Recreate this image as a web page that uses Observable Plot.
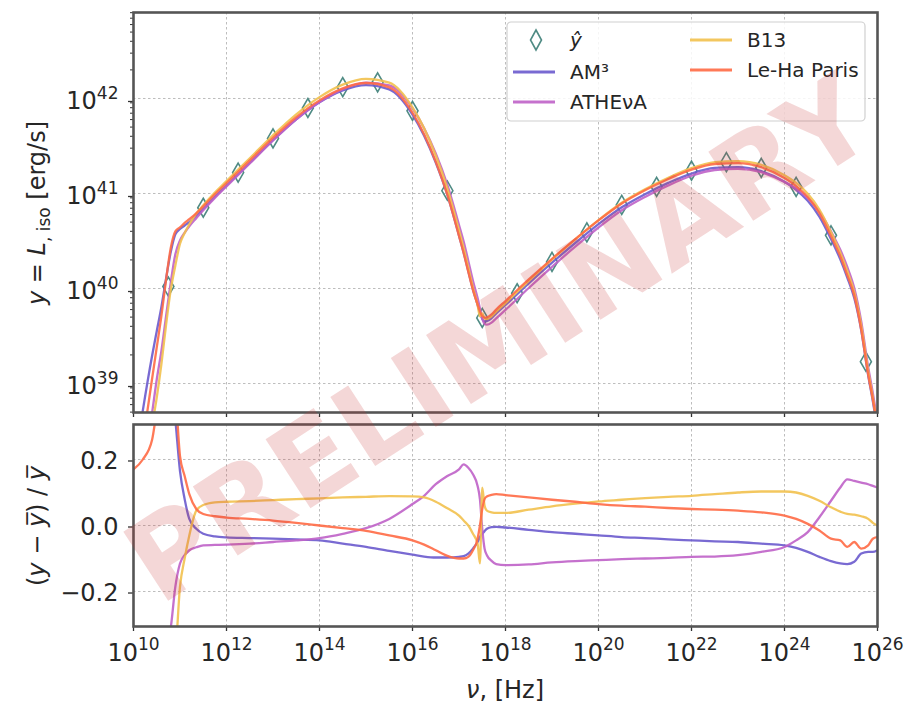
<!DOCTYPE html>
<html><head><meta charset="utf-8">
<script src="https://cdn.jsdelivr.net/npm/d3@7"></script>
<script src="https://cdn.jsdelivr.net/npm/@observablehq/plot@0.6"></script>
<style>
body{margin:0;background:#fff;}
#wrap{position:relative;width:905px;height:706px;font-family:"DejaVu Sans",sans-serif;overflow:hidden;}
#wrap > svg{display:block}
.ov{position:absolute;left:0;top:0;pointer-events:none}
</style></head><body><div id="wrap"></div>
<script>
// ---- data ----
const logNu = [
  10.0, 10.2, 10.4, 10.5, 10.6, 10.7, 10.8, 10.9, 11.0, 11.1,
  11.2, 11.35, 11.5, 11.75, 12.0, 12.5, 13.0, 13.5, 14.0, 14.5,
  15.0, 15.5, 16.0, 16.25, 16.5, 16.75, 17.0, 17.1, 17.2, 17.3,
  17.4, 17.45, 17.5, 17.55, 17.6, 17.7, 17.8, 18.0, 18.5, 19.0,
  19.5, 20.0, 20.5, 21.0, 21.5, 22.0, 22.5, 23.0, 23.5, 24.0,
  24.25, 24.5, 24.75, 25.0, 25.2, 25.35, 25.5, 25.65, 25.8, 25.9, 26.0];
// mean model luminance, log10 erg/s
const logYbar = [
  37.6, 38.3, 38.95, 39.25, 39.55, 39.9, 40.22, 40.45, 40.56, 40.63,
  40.69, 40.77, 40.85, 40.98, 41.1, 41.34, 41.58, 41.8, 41.98, 42.11,
  42.17, 42.13, 41.87, 41.65, 41.37, 41.03, 40.6, 40.42, 40.22, 40.02,
  39.85, 39.76, 39.69, 39.66, 39.66, 39.69, 39.74, 39.83, 40.06, 40.28,
  40.49, 40.69, 40.87, 41.01, 41.13, 41.23, 41.29, 41.3, 41.26, 41.15,
  41.07, 40.96, 40.8, 40.57, 40.36, 40.17, 39.95, 39.6, 39.12, 38.85, 38.55];
// relative residuals (y - ybar)/ybar per model
const resAM3 = [
  2.0, 1.6, 1.2, 1.0, 0.8, 0.6, 0.45, 0.32, 0.165, 0.08,
  0.02, -0.01, -0.025, -0.033, -0.036, -0.038, -0.04, -0.042, -0.045, -0.055,
  -0.065, -0.077, -0.088, -0.094, -0.097, -0.097, -0.095, -0.093, -0.085, -0.07,
  -0.05, -0.035, -0.025, -0.017, -0.01, -0.005, -0.004, -0.006, -0.013, -0.02,
  -0.025, -0.03, -0.035, -0.038, -0.042, -0.045, -0.048, -0.05, -0.055, -0.06,
  -0.068, -0.08, -0.095, -0.108, -0.115, -0.117, -0.11, -0.085, -0.08, -0.08, -0.075];
const resATHEvA = [
  -0.5, -0.44, -0.45, -0.38, -0.38, -0.36, -0.31, -0.185, -0.115, -0.09,
  -0.075, -0.066, -0.06, -0.059, -0.058, -0.055, -0.05, -0.045, -0.038, -0.025,
  -0.008, 0.02, 0.065, 0.09, 0.125, 0.15, 0.17, 0.185, 0.175, 0.155,
  0.12, 0.08, -0.01, -0.07, -0.09, -0.107, -0.117, -0.12, -0.118, -0.112,
  -0.108, -0.105, -0.102, -0.1, -0.098, -0.095, -0.094, -0.09, -0.08, -0.065,
  -0.045, -0.02, 0.025, 0.075, 0.115, 0.14, 0.135, 0.13, 0.125, 0.12, 0.115];
const resB13 = [
  -0.75, -0.68, -0.6, -0.6, -0.55, -0.48, -0.42, -0.38, -0.185, -0.1,
  -0.03, 0.045, 0.062, 0.07, 0.072, 0.074, 0.077, 0.08, 0.082, 0.085,
  0.087, 0.089, 0.088, 0.085, 0.072, 0.052, 0.03, 0.015, 0.0, -0.025,
  -0.055, -0.115, 0.115, 0.06, 0.045, 0.04, 0.038, 0.038, 0.048, 0.058,
  0.066, 0.073, 0.078, 0.083, 0.087, 0.09, 0.095, 0.1, 0.103, 0.103,
  0.1, 0.09, 0.075, 0.055, 0.042, 0.035, 0.033, 0.028, 0.02, 0.008, 0.0];
const resLeHa = [
  0.17, 0.2, 0.26, 0.35, 0.45, 0.55, 0.6, 0.42, 0.21, 0.15,
  0.095, 0.05, 0.035, 0.028, 0.024, 0.02, 0.015, 0.008, 0.0, -0.008,
  -0.016, -0.03, -0.045, -0.058, -0.075, -0.092, -0.1, -0.1, -0.095, -0.075,
  -0.04, 0.0, 0.05, 0.08, 0.088, 0.093, 0.095, 0.092, 0.085, 0.078,
  0.072, 0.065, 0.06, 0.057, 0.053, 0.05, 0.048, 0.045, 0.04, 0.03,
  0.02, 0.005, -0.015, -0.04, -0.045, -0.065, -0.05, -0.07, -0.06, -0.04, -0.035];
// observed points (y hat)
const logNuObs = [10.75, 11.5, 12.25, 13.0, 13.75, 14.5, 15.25, 16.0, 16.75, 17.5, 18.25,
  19.0, 19.75, 20.5, 21.25, 22.0, 22.75, 23.5, 24.25, 25.0, 25.75];
const logLObs = [40.02, 40.85, 41.22, 41.58, 41.90, 42.12, 42.17, 41.87, 41.03, 39.69, 39.95,
  40.28, 40.59, 40.88, 41.07, 41.24, 41.33, 41.27, 41.07, 40.56, 39.23];
const modelNames = ["AM³", "ATHEνA", "B13", "Le-Ha Paris"];
const modelColors = ["#6a5acd", "#bf62c8", "#f2c14e", "#ff6a45"];
const xTickExp = [10, 12, 14, 16, 18, 20, 22, 24, 26];
const yTickExp = [39, 40, 41, 42];
const resTicks = [-0.2, 0.0, 0.2];

// ---- build tables ----
const residuals = [resAM3, resATHEvA, resB13, resLeHa];
const series = modelNames.map((name, k) => logNu.map((ln, i) => ({
  nu: 10 ** ln,
  L: 10 ** logYbar[i] * (1 + residuals[k][i]),
  r: residuals[k][i]
})));
const obs = logNuObs.map((ln, i) => ({nu: 10 ** ln, L: 10 ** logLObs[i]}));
const xTicks = xTickExp.map(e => 10 ** e);
const yTicks = yTickExp.map(e => 10 ** e);
const yMinor = [];
for (let e = 38; e <= 42; e++) for (let k = 2; k <= 9; k++) {
  const v = k * 10 ** e; if (v > 10 ** 38.695 && v < 10 ** 42.905) yMinor.push(v);
}
const thinDiamond = {
  draw(ctx, size) {
    const r = Math.sqrt(size / Math.PI), w = r * 0.58;
    ctx.moveTo(0, -r); ctx.lineTo(w, 0); ctx.lineTo(0, r); ctx.lineTo(-w, 0); ctx.closePath();
  }
};
const pow = d => "10^" + Math.round(Math.log10(d));
const textCol = "#262626";
const gridStyle = {stroke: "#bdbdbd", strokeOpacity: 1, strokeWidth: 1, strokeDasharray: "2.5,2.5"};
const common = {
  width: 905, marginLeft: 133, marginRight: 28,
  style: {fontFamily: "DejaVu Sans", fontSize: "24px", color: textCol, background: "transparent", overflow: "visible"},
  x: {type: "log", domain: [1e10, 1e26]}
};

const topPlot = Plot.plot({
  ...common, height: 418, marginTop: 12, marginBottom: 6,
  y: {type: "log", domain: [10 ** 38.695, 10 ** 42.905]},
  marks: [
    Plot.gridX(xTicks, gridStyle),
    Plot.gridY(yTicks, gridStyle),
    Plot.dot(obs, {x: "nu", y: "L", symbol: thinDiamond, r: 9.5, stroke: "#4f8b84", strokeWidth: 1.6, fill: "none"}),
    ...series.map((s, k) => Plot.line(s, {x: "nu", y: "L", stroke: modelColors[k], strokeWidth: 2.3, strokeOpacity: 0.9, curve: "monotone-x", clip: true})),
    Plot.axisX({ticks: xTicks, tickSize: 5, tickFormat: () => "", label: null, stroke: "#333", strokeWidth: 1.3}),
    Plot.axisY({ticks: yMinor, tickSize: 3, tickFormat: () => "", label: null, stroke: "#333"}),
    Plot.axisY({ticks: yTicks, tickSize: 5, tickPadding: 10, tickFormat: pow, label: null, dy: 3, stroke: "#333", strokeWidth: 1.3}),
    Plot.frame({stroke: "#555", strokeWidth: 2.6})
  ]
});

const botPlot = Plot.plot({
  ...common, height: 288, marginTop: 6, marginBottom: 80,
  y: {domain: [-0.306, 0.306]},
  marks: [
    Plot.gridX(xTicks, gridStyle),
    Plot.gridY(resTicks, gridStyle),
    ...series.map((s, k) => Plot.line(s, {x: "nu", y: "r", stroke: modelColors[k], strokeWidth: 2.3, strokeOpacity: 0.9, curve: "monotone-x", clip: true})),
    Plot.axisX({ticks: xTicks, tickSize: 5, tickPadding: 12, tickFormat: pow, label: null, stroke: "#333", strokeWidth: 1.3}),
    Plot.axisY({ticks: resTicks, tickSize: 5, tickPadding: 10, tickFormat: d3.format(".1f"), label: null, dy: 1.5, stroke: "#333", strokeWidth: 1.3}),
    Plot.frame({stroke: "#555", strokeWidth: 2.6})
  ]
});

const NS = "http://www.w3.org/2000/svg";
function superscripts(svg) {
  svg.querySelectorAll("text").forEach(t => {
    const m = /^10\^(\d+)$/.exec(t.textContent);
    if (m) {
      t.textContent = "10";
      const ts = document.createElementNS(NS, "tspan");
      ts.setAttribute("font-size", "17");
      ts.setAttribute("dy", "-0.6em");
      ts.textContent = m[1];
      t.appendChild(ts);
    }
  });
}
superscripts(topPlot); superscripts(botPlot);
const wrap = document.getElementById("wrap");
wrap.appendChild(topPlot);
wrap.appendChild(botPlot);

// ---- overlay: axis titles, legend, watermark ----
const ov = d3.select(wrap).append("svg").attr("class", "ov")
  .attr("width", 905).attr("height", 706)
  .style("font-family", "DejaVu Sans").style("fill", textCol);

// y title (top)
const t1 = ov.append("text").attr("transform", "translate(45,213) rotate(-90)")
  .attr("text-anchor", "middle").attr("font-size", 24);
t1.append("tspan").attr("font-style", "italic").text("y");
t1.append("tspan").text(" = ");
t1.append("tspan").attr("font-style", "italic").text("L");
t1.append("tspan").attr("font-size", 17).attr("dy", "0.3em").text(", iso");
t1.append("tspan").attr("dy", "-0.21em").text(" [erg/s]");

// y title (bottom)
const t2 = ov.append("text").attr("transform", "translate(45,526) rotate(-90)")
  .attr("text-anchor", "middle").attr("font-size", 24);
t2.append("tspan").text("(");
t2.append("tspan").attr("font-style", "italic").text("y");
t2.append("tspan").text(" − ");
t2.append("tspan").attr("font-style", "italic").text("y\u0305");
t2.append("tspan").text(") / ");
t2.append("tspan").attr("font-style", "italic").text("y\u0305");

// x title
const t3 = ov.append("text").attr("x", 505).attr("y", 698).attr("text-anchor", "middle").attr("font-size", 24);
t3.append("tspan").attr("font-style", "italic").text("ν");
t3.append("tspan").text(",  [Hz]");

// legend
const lg = ov.append("g").attr("transform", "translate(507,22)");
lg.append("rect").attr("width", 358).attr("height", 99).attr("rx", 4)
  .attr("fill", "white").attr("fill-opacity", 0.85).attr("stroke", "#d0d0d0").attr("stroke-width", 1.2);
lg.append("path").attr("d", "M29,8 L34.5,18 L29,28 L23.5,18 Z")
  .attr("fill", "none").attr("stroke", "#4f8b84").attr("stroke-width", 1.6);
const lgText = (x, y, txt, italic) => lg.append("text").attr("x", x).attr("y", y).attr("dy", "0.36em")
  .attr("font-size", 20).attr("font-style", italic ? "italic" : null).text(txt);
lgText(63, 18, "ŷ", true);
const entries = [[6, 50], [6, 80], [183, 18], [183, 48]];
entries.forEach(([x, y], k) => {
  lg.append("line").attr("x1", x).attr("x2", x + 42).attr("y1", y).attr("y2", y)
    .attr("stroke", modelColors[k]).attr("stroke-width", 3).attr("stroke-opacity", 0.9);
  lgText(x + 57, y, modelNames[k], false);
});

// watermark
ov.append("text").attr("transform", "translate(498,338) rotate(-33)")
  .attr("text-anchor", "middle").attr("dy", "0.36em")
  .attr("font-size", 113).attr("font-weight", "bold")
  .attr("fill", "#c83737").attr("fill-opacity", 0.2)
  .text("PRELIMINARY");
</script></body></html>
